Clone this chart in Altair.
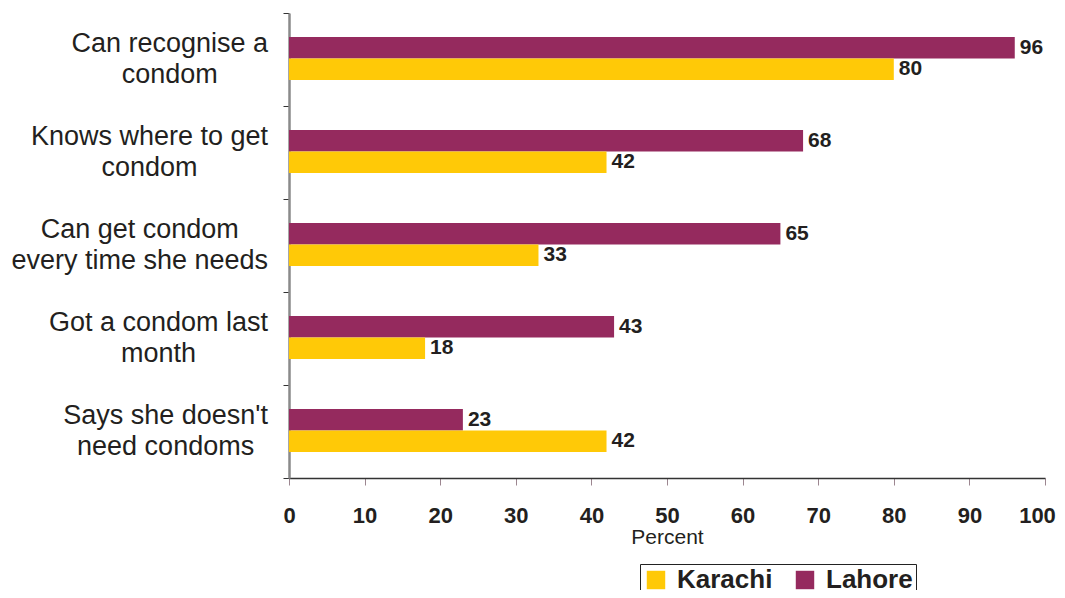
import altair as alt
import pandas as pd

line1 = ["Can recognise a", "Knows where to get", "Can get condom",
         "Got a condom last", "Says she doesn't"]
line2 = ["condom", "condom", "every time she needs", "month", "need condoms"]
karachi = [80, 42, 33, 18, 42]
lahore = [96, 68, 65, 43, 23]
cities = ["Karachi", "Lahore"]
colors = ["#FFC907", "#952A5E"]

categories = [a + " " + b for a, b in zip(line1, line2)]

rows = []
for c, k, l in zip(categories, karachi, lahore):
    rows.append({"cat": c, "city": "Lahore", "val": l})
    rows.append({"cat": c, "city": "Karachi", "val": k})
df = pd.DataFrame(rows)

FONT = "Liberation Sans"
CAT_SIZE = 27
PLOT_W = 756

# Arial/Helvetica advance widths (per 1000 em) to centre the two label lines
# on the wider one, as in the original (block right edge 21px left of axis).
W = dict(zip("abcdefghijklmnopqrstuvwxyz",
             [556, 556, 500, 556, 556, 278, 556, 556, 222, 222, 500, 222, 833,
              556, 556, 556, 556, 333, 500, 278, 556, 500, 722, 500, 500, 500]))
W.update({"C": 722, "K": 667, "G": 778, "S": 667, " ": 278, "'": 191})


def text_w(s):
    return sum(W.get(ch, 556) for ch in s) * CAT_SIZE / 1000.0


lab_rows = []
for c, a, b in zip(categories, line1, line2):
    w = max(text_w(a), text_w(b))
    centre_px = -21 - w / 2.0
    lab_rows.append({"cat": c, "l1": a, "l2": b, "lx": centre_px * 100.0 / PLOT_W})
labdf = pd.DataFrame(lab_rows)

y = alt.Y("cat:N", sort=categories, title=None,
          scale=alt.Scale(paddingInner=0, paddingOuter=0),
          axis=alt.Axis(labels=False, tickBand="extent", tickSize=6, tickColor="#333333",
                        domainColor="#8a8a8a", domainWidth=2.5))
yoff = alt.YOffset("city:N", sort=["Lahore", "Karachi"],
                   scale=alt.Scale(domain=["Lahore", "Karachi"], paddingInner=0,
                                   paddingOuter=0, range=[24, 67]))
x = alt.X("val:Q", scale=alt.Scale(domain=[0, 100], nice=False, clamp=False),
          axis=alt.Axis(values=list(range(0, 101, 10)), labelFontSize=22, labelFontWeight="bold",
                        labelFont=FONT, labelColor="#231F20", tickSize=7, tickColor="#9c8690",
                        domainColor="#333333", domainWidth=1.5, grid=False, labelPadding=20,
                        labelFlush=False, labelOverlap=False,
                        labelOffset={"condition": {"test": "datum.value == 100", "value": -8},
                                     "value": 0},
                        title="Percent", titleFont=FONT, titleFontSize=21,
                        titleFontWeight="normal", titleColor="#231F20", titlePadding=0))

base = alt.Chart(df)
bars = base.mark_bar().encode(
    x=x, y=y, yOffset=yoff,
    color=alt.Color("city:N", scale=alt.Scale(domain=cities, range=colors),
                    legend=alt.Legend(title=None, orient="none", legendX=351, legendY=551,
                                      direction="horizontal", symbolType="square",
                                      symbolSize=340, symbolStrokeWidth=0,
                                      labelFontSize=26, labelFontWeight="bold", labelFont=FONT,
                                      labelColor="#231F20", strokeColor="#222222",
                                      padding=3, columnPadding=19, labelOffset=8,
                                      fillColor="white")),
)
values = base.mark_text(align="left", baseline="middle", dx=5, fontSize=21,
                        fontWeight="bold", font=FONT, color="#231F20").encode(
    x="val:Q", y=alt.Y("cat:N", sort=categories), yOffset=yoff, text="val:Q")

lab = alt.Chart(labdf)
top_lines = lab.mark_text(align="center", baseline="middle", dy=-15.5, fontSize=CAT_SIZE,
                          font=FONT, color="#231F20", clip=False).encode(
    x="lx:Q", y=alt.Y("cat:N", sort=categories), text="l1:N")
bottom_lines = lab.mark_text(align="center", baseline="middle", dy=15.5, fontSize=CAT_SIZE,
                             font=FONT, color="#231F20", clip=False).encode(
    x="lx:Q", y=alt.Y("cat:N", sort=categories), text="l2:N")

chart = (bars + values + top_lines + bottom_lines).properties(
    width=PLOT_W, height=465,
    autosize=alt.AutoSizeParams(type="none"),
    padding={"left": 281, "top": 5, "right": 12, "bottom": 112},
).configure_view(stroke=None)

chart.save("out.html", embed_options={"renderer": "svg", "actions": False})
